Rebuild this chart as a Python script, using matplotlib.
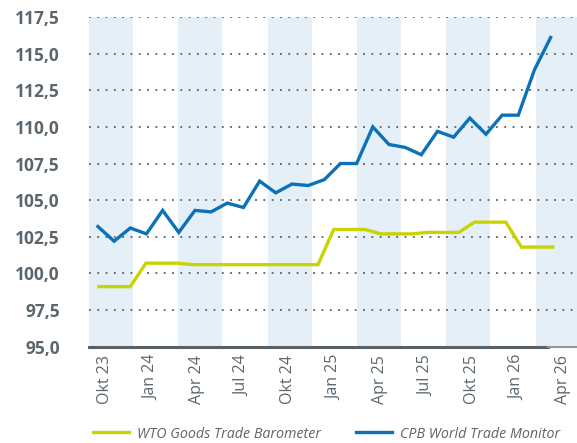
import matplotlib.pyplot as plt
import numpy as np

# CPB World Trade Monitor, monthly Okt 23 .. Feb 26
cpb = [103.2, 102.2, 103.1, 102.7, 104.3, 102.8, 104.3, 104.2, 104.8, 104.5,
       106.3, 105.5, 106.1, 106.0, 106.4, 107.5, 107.5, 110.0, 108.8, 108.6,
       108.1, 109.7, 109.3, 110.6, 109.5, 110.8, 110.8, 113.9, 116.1]
# WTO Goods Trade Barometer, monthly Okt 23 .. Mar 26
wto = [99.1, 99.1, 99.1, 100.7, 100.7, 100.7, 100.6, 100.6, 100.6, 100.6,
       100.6, 100.6, 100.6, 100.6, 100.6, 103.0, 103.0, 103.0, 102.7, 102.7,
       102.7, 102.8, 102.8, 102.8, 103.5, 103.5, 103.5, 101.8, 101.8, 101.8]
tick_labels = ['Okt 23', 'Jan 24', 'Apr 24', 'Jul 24', 'Okt 24', 'Jan 25',
               'Apr 25', 'Jul 25', 'Okt 25', 'Jan 26', 'Apr 26']
y_ticks = [95.0, 97.5, 100.0, 102.5, 105.0, 107.5, 110.0, 112.5, 115.0, 117.5]

BLUE = '#0b72b9'
YELLOW = '#c8d400'
BAND = '#e4eff7'
GREY = '#5b666e'

plt.rcParams['font.family'] = ['Open Sans', 'DejaVu Sans']

fig = plt.figure(figsize=(5.77, 4.43), dpi=100)
ax = fig.add_axes([89 / 577, 96.3 / 443, 1 - 89 / 577, 329.7 / 443])

# quarter bands (every other quarter shaded)
for k in range(6):
    ax.axvspan(6 * k, 6 * k + 2.95, color=BAND, lw=0, zorder=0)

# dotted grid
for yv in y_ticks[1:]:
    ax.axhline(yv, color='#5e5e5e', lw=1.3, dashes=(1, 3.6), zorder=1)

x_cpb = np.linspace(0.6, 31.0, len(cpb))
x_wto = np.linspace(0.67, 31.14, len(wto))
ax.plot(x_wto, wto, color=YELLOW, lw=2.4, solid_joinstyle='miter', zorder=3,
        label='WTO Goods Trade Barometer')
ax.plot(x_cpb, cpb, color=BLUE, lw=2.4, solid_joinstyle='miter', zorder=4,
        label='CPB World Trade Monitor')

ax.set_xlim(0, 32.77)
ax.set_ylim(95, 117.5)

for s in ['top', 'right', 'left']:
    ax.spines[s].set_visible(False)
ax.spines['bottom'].set_color('#596166')
ax.spines['bottom'].set_linewidth(2.2)
ax.spines['bottom'].set_bounds(0, 30.83)
ax.plot([30.83, 32.77], [95, 95], color='#8f979c', lw=1.5, clip_on=False, zorder=5)

ax.set_yticks(y_ticks)
ax.set_yticklabels([f'{v:.1f}'.replace('.', ',') for v in y_ticks],
                   fontsize=12.5, fontweight='bold', color=GREY)
ax.tick_params(axis='y', length=0, pad=21)

ax.set_xticks(np.linspace(1.07, 1.07 + 3.078 * 10, len(tick_labels)))
ax.set_xticklabels(tick_labels, rotation=90, fontsize=11.5, color=GREY)
ax.tick_params(axis='x', length=0, pad=6)

fig.legend(loc='center left', bbox_to_anchor=(93 / 577, 1 - 434 / 443), ncol=2,
           frameon=False, prop={'style': 'italic', 'size': 10.3},
           labelcolor=GREY, handlelength=2.5, handletextpad=0.55,
           columnspacing=2.5, borderpad=0, borderaxespad=0)

fig.savefig('out.png', dpi=100)
